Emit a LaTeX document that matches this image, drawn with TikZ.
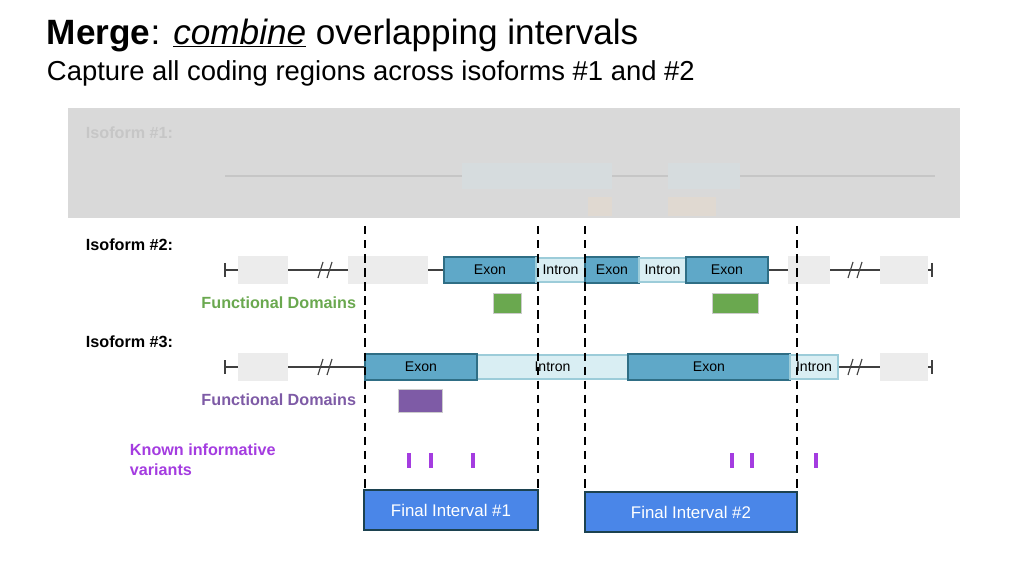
\documentclass[tikz,border=0pt]{standalone}
\usepackage{fontspec}
\setmainfont{Liberation Sans}
\usetikzlibrary{positioning}
\definecolor{exonc}{HTML}{5FA8C8}
\definecolor{exonb}{HTML}{2F6E85}
\definecolor{intronc}{HTML}{D9EEF3}
\definecolor{intronb}{HTML}{9CCCD9}
\definecolor{padc}{HTML}{ECECEC}
\definecolor{fdgreen}{HTML}{6AA84F}
\definecolor{fdpurple}{HTML}{7E5BA6}
\definecolor{varc}{HTML}{A43CE0}
\definecolor{finc}{HTML}{4A86E8}
\tikzset{
  exon/.style={draw=exonb,fill=exonc,thick,font=\fontsize{10}{12}\selectfont},
  intron/.style={draw=intronb,fill=intronc,thick,font=\fontsize{10}{12}\selectfont},
  pad/.style={fill=padc},
  isolabel/.style={anchor=west,font=\bfseries\fontsize{11.5}{14}\selectfont},
  fdlabel/.style={anchor=east,font=\bfseries\fontsize{11.5}{14}\selectfont},
  cut/.style={ultra thick,dash pattern=on 6pt off 4pt},
  finalbox/.style={draw=exonb!60!black,fill=finc,text=white,thick,font=\fontsize{12}{14}\selectfont}
}
\begin{document}
\begin{tikzpicture}[x=0.025cm,y=-0.025cm]
  \useasboundingbox (0,0) rectangle (1024,576);
  % title
  \node[anchor=west,font=\fontsize{25}{30}\selectfont] (title) at (42,35) {\textbf{Merge}: \underline{\textit{combine}} overlapping intervals};
  \node[anchor=west,font=\fontsize{19.5}{23}\selectfont] (sub) at (42,73) {Capture all coding regions across isoforms \#1 and \#2};

  % faded isoform 1
  \fill[gray!30] (68,108) rectangle (960,218);
  \node[isolabel,text=gray!45] (iso1) at (81,133) {Isoform \#1:};
  \draw[gray!45,thick] (225,176) -- (935,176);
  \fill[exonc!25!gray!30] (462,163) rectangle (612,189);
  \fill[exonc!25!gray!30] (668,163) rectangle (740,189);
  \fill[orange!20!gray!30] (588,197) rectangle (612,216);
  \fill[orange!20!gray!30] (668,197) rectangle (716,216);

  % isoform 2
  \node[isolabel] (iso2) at (81,245) {Isoform \#2:};
  \draw[thick,black!75] (225,270) -- (932,270);
  \draw[thick,black!75] (225,263) -- (225,277) (932,263) -- (932,277);
  \foreach \a/\b in {238/288,348/428,788/830,880/928}
    \fill[pad] (\a,256) rectangle (\b,284);
  \foreach \s in {325,855}
    \draw[thick,black!75] (\s-7,278) -- (\s-2,262) (\s+2,278) -- (\s+7,262);
  \node[exon,minimum width=92*0.025cm,minimum height=26*0.025cm] (e21) at (490,270) {Exon};
  \node[intron,minimum width=49*0.025cm,minimum height=24*0.025cm] (i21) at (560.5,270) {Intron};
  \node[exon,minimum width=54*0.025cm,minimum height=26*0.025cm] (e22) at (612,270) {Exon};
  \node[intron,minimum width=47*0.025cm,minimum height=24*0.025cm] (i22) at (662.5,270) {Intron};
  \node[exon,minimum width=82*0.025cm,minimum height=26*0.025cm] (e23) at (727,270) {Exon};
  \node[fdlabel,text=fdgreen] (fd2) at (361,303) {Functional Domains};
  \draw[gray!40,fill=fdgreen] (493,293) rectangle (521,313);
  \draw[gray!40,fill=fdgreen] (712,293) rectangle (758,313);

  % isoform 3
  \node[isolabel] (iso3) at (81,342) {Isoform \#3:};
  \draw[thick,black!75] (225,367) -- (932,367);
  \draw[thick,black!75] (225,360) -- (225,374) (932,360) -- (932,374);
  \foreach \a/\b in {238/288,880/928}
    \fill[pad] (\a,353) rectangle (\b,381);
  \foreach \s in {325,855}
    \draw[thick,black!75] (\s-7,375) -- (\s-2,359) (\s+2,375) -- (\s+7,359);
  \node[intron,minimum width=151*0.025cm,minimum height=24*0.025cm] (i31) at (552.5,367) {Intron};
  \node[exon,minimum width=112*0.025cm,minimum height=26*0.025cm] (e31) at (421,367) {Exon};
  \node[exon,minimum width=162*0.025cm,minimum height=26*0.025cm] (e32) at (709,367) {Exon};
  \node[intron,minimum width=48*0.025cm,minimum height=24*0.025cm] (i32) at (814,367) {Intron};
  \node[fdlabel,text=fdpurple] (fd3) at (361,400) {Functional Domains};
  \draw[gray!40,fill=fdpurple] (398,389) rectangle (442,412);

  % variants
  \node[anchor=west,align=left,font=\bfseries\fontsize{11.5}{14}\selectfont,text=varc] (kv) at (125,460) {Known informative\\variants};
  \foreach \v in {409,431,473,732,752,816}
    \draw[varc,line width=2.5pt] (\v,453) -- (\v,468);

  % cut lines
  \foreach \c in {365,538,585,797}
    \draw[cut] (\c,226) -- (\c,488);

  % final intervals
  \node[finalbox,minimum width=174*0.025cm,minimum height=40*0.025cm] (fin1) at (451,510) {Final Interval \#1};
  \node[finalbox,minimum width=212*0.025cm,minimum height=40*0.025cm] (fin2) at (691,512) {Final Interval \#2};
\end{tikzpicture}
\end{document}
